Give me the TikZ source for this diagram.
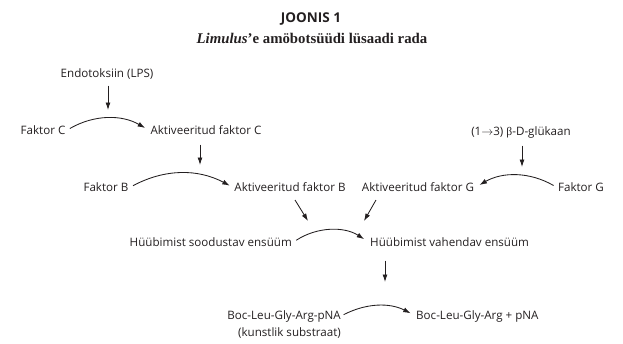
\documentclass[tikz,border=0pt]{standalone}
\usepackage{fontspec}
\setmainfont{Open Sans}
\newfontfamily\serifbold{Liberation Serif}
\usetikzlibrary{arrows.meta}
\definecolor{ink}{HTML}{231F20}
\begin{document}
\begin{tikzpicture}[x=1pt,y=-1pt,
  lbl/.style={font=\fontsize{11.6}{13}\selectfont, inner sep=0pt, text=ink, text height=8.5pt, text depth=2.5pt},
  arr/.style={-{Latex[length=7.5pt,width=5pt]}, line width=0.85pt, draw=ink},
]
\useasboundingbox (0,0) rectangle (623,343);
% titles
\node[font=\bfseries\fontsize{13.5}{15}\selectfont, text=ink, inner sep=0pt] (title) at (311,19) {JOONIS 1};
\node[font=\serifbold\bfseries\fontsize{14.8}{16}\selectfont, text=ink, inner sep=0pt] (sub) at (312,38) {\textit{Limulus}’e amöbotsüüdi lüsaadi rada};
% nodes
\node[lbl] (endo) at (107,74) {Endotoksiin (LPS)};
\node[lbl] (fc) at (43,131) {Faktor C};
\node[lbl] (afc) at (206,131) {Aktiveeritud faktor C};
\node[lbl] (fb) at (106,188) {Faktor B};
\node[lbl] (afb) at (290,188) {Aktiveeritud faktor B};
\node[lbl] (afg) at (418,188) {Aktiveeritud faktor G};
\node[lbl] (fg) at (581,188) {Faktor G};
\node[lbl] (glu) at (521,132) {(1$\rightarrow$3) {\serifbold β}-D-glükaan};
\node[lbl, anchor=east] (hs) at (292,243) {Hüübimist soodustav ensüüm};
\node[lbl, anchor=west] (hv) at (370,243) {Hüübimist vahendav ensüüm};
\node[lbl, anchor=east] (boc) at (341,316) {Boc-Leu-Gly-Arg-pNA};
\node[lbl, anchor=east] (bocsub) at (341,333) {(kunstlik substraat)};
\node[lbl, anchor=west] (bocp) at (416,316) {Boc-Leu-Gly-Arg + pNA};
% free arrow ends
\coordinate (e1) at (108,110);
\coordinate (e2) at (200,165);
\coordinate (e3) at (522,167);
\coordinate (d1s) at (295,200);
\coordinate (d1) at (308,221);
\coordinate (d2s) at (376,200);
\coordinate (d2) at (364,221);
\coordinate (e4) at (385,282);
% straight arrows
\draw[arr, shorten <=6pt] (endo.south -| e1) -- (e1);
\draw[arr, shorten <=8pt] (afc.south -| e2) -- (e2);
\draw[arr, shorten <=8pt] (glu.south -| e3) -- (e3);
\draw[arr] (d1s) -- (d1);
\draw[arr] (d2s) -- (d2);
\draw[arr, shorten <=12pt] (hv.south -| e4) -- (e4);
% curved arrows
\draw[arr, shorten <=5pt, shorten >=6pt] (fc.east) to[bend left=30] (afc.west);
\draw[arr, shorten <=5pt, shorten >=5pt] (fb.east) to[bend left=28] (afb.west);
\draw[arr, shorten <=5pt, shorten >=6pt] (fg.west) to[bend right=30] (afg.east);
\draw[arr, shorten <=5pt, shorten >=7pt] (hs.east) to[bend left=33] (hv.west);
\draw[arr, shorten <=3pt, shorten >=6pt] (boc.east) to[bend left=27] (bocp.west);
\end{tikzpicture}
\end{document}
